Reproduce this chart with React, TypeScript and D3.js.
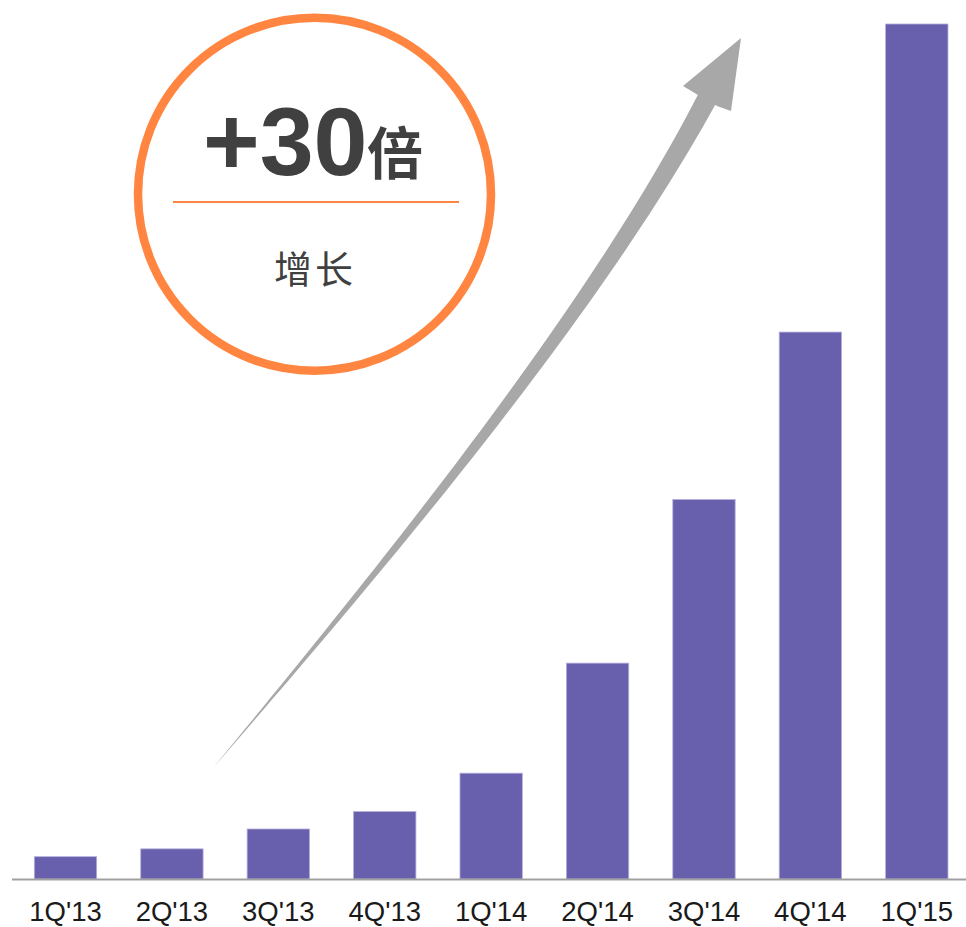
import React from "react";
import * as d3 from "d3";

const categories = ["1Q'13", "2Q'13", "3Q'13", "4Q'13", "1Q'14", "2Q'14", "3Q'14", "4Q'14", "1Q'15"];
const values = [1.0, 1.35, 2.24, 3.02, 4.74, 9.67, 17.0, 24.5, 38.3];
const headlineNumber = "+30";
const headlineUnit = "倍";
const subtitle = "增长";

const W = 966;
const H = 927;

export default function App() {
  const x = d3.scaleBand<string>().domain(categories).range([14.1, 968.2]).paddingInner(0.414).paddingOuter(0.19);
  const y = d3.scaleLinear().domain([0, 38.3]).range([879, 24]);

  // curved tapered arrow (annotation)
  const P0 = [213, 768], P1 = [374, 577], P2 = [589.5, 319.7], P3 = [707, 99];
  const bez = (t: number) => {
    const u = 1 - t;
    const a = u * u * u, b = 3 * u * u * t, c = 3 * u * t * t, d = t * t * t;
    return [a * P0[0] + b * P1[0] + c * P2[0] + d * P3[0], a * P0[1] + b * P1[1] + c * P2[1] + d * P3[1]];
  };
  const der = (t: number) => {
    const u = 1 - t;
    const dx = 3 * u * u * (P1[0] - P0[0]) + 6 * u * t * (P2[0] - P1[0]) + 3 * t * t * (P3[0] - P2[0]);
    const dy = 3 * u * u * (P1[1] - P0[1]) + 6 * u * t * (P2[1] - P1[1]) + 3 * t * t * (P3[1] - P2[1]);
    const l = Math.hypot(dx, dy);
    return [dx / l, dy / l];
  };
  const N = 60;
  const left: [number, number][] = [];
  const right: [number, number][] = [];
  for (let i = 0; i <= N; i++) {
    const t = i / N;
    const p = bez(t);
    const dv = der(t);
    const nx = -dv[1], ny = dv[0];
    const w = 20 * t;
    left.push([p[0] + nx * w / 2, p[1] + ny * w / 2]);
    right.push([p[0] - nx * w / 2, p[1] - ny * w / 2]);
  }
  const shaftPts = left.concat(right.reverse());
  const line = d3.line().curve(d3.curveLinearClosed);
  const shaftD = line(shaftPts) || "";
  const headD = line([[741, 38], [683, 86], [698, 95], [708, 100], [717, 106], [731, 111]]) || "";

  return (
    <svg width={W} height={H} style={{ position: "absolute", left: 0, top: 0, display: "block", background: "#fff" }}>
      {/* bars */}
      {categories.map((c, i) => (
        <rect
          key={c}
          x={x(c)}
          y={y(values[i])}
          width={x.bandwidth()}
          height={y(0) - y(values[i])}
          fill="#6860AC"
          stroke="#B4AEDC"
          strokeWidth={0.8}
        />
      ))}
      {/* axis */}
      <line x1={12} x2={966} y1={879.5} y2={879.5} stroke="#A0A0A0" strokeWidth={2} />
      {categories.map((c) => (
        <text
          key={c}
          x={(x(c) as number) + x.bandwidth() / 2}
          y={921}
          textAnchor="middle"
          fontFamily="'Liberation Sans', Arial, sans-serif"
          fontSize={27.5}
          fill="#1A1A1A"
        >
          {c}
        </text>
      ))}
      {/* arrow */}
      <path d={shaftD} fill="#A8A8A8" />
      <path d={headD} fill="#A8A8A8" />
      {/* circle callout */}
      <circle cx={314.5} cy={194.2} r={176.5} fill="none" stroke="#FF8540" strokeWidth={8.5} />
      <line x1={173} x2={459} y1={202} y2={202} stroke="#FF8540" strokeWidth={2} />
      <text x={203} y={175} fontFamily="'Liberation Sans', Arial, sans-serif" fontWeight="bold" fontSize={97} fill="#404040">
        {headlineNumber}
      </text>
      <text x={367} y={174} fontFamily="'Noto Sans CJK SC', sans-serif" fontWeight="bold" fontSize={56} fill="#404040">
        {headlineUnit}
      </text>
      <text x={315} y={283} textAnchor="middle" fontFamily="'Noto Sans CJK SC', sans-serif" fontSize={38} letterSpacing={3} fill="#404040">
        {subtitle}
      </text>
    </svg>
  );
}
